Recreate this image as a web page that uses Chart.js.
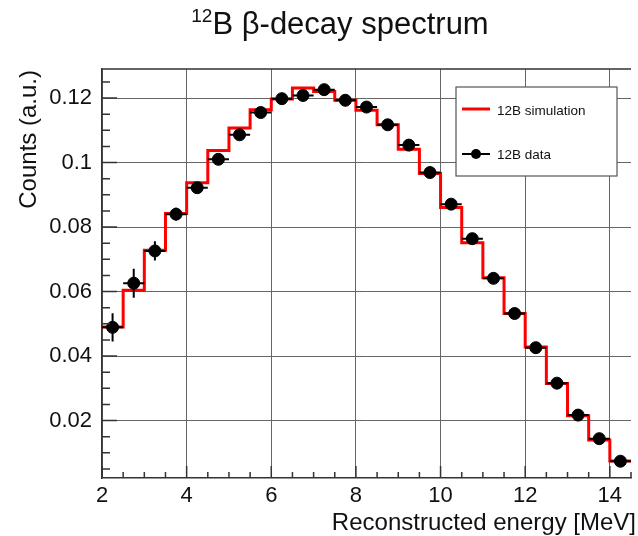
<!DOCTYPE html>
<html>
<head>
<meta charset="utf-8">
<script src="https://cdn.jsdelivr.net/npm/chart.js@4.4.1/dist/chart.umd.min.js"></script>
<style>
  html, body { margin: 0; padding: 0; background: #fff; }
  #wrap { position: relative; width: 638px; height: 536px; overflow: hidden; }
  #title {
    position: absolute; left: 0; top: 6px; width: 680px; text-align: center;
    font-family: "Liberation Sans", Arial, sans-serif; font-size: 31px; line-height: 36px; color: #111;
  }
  #title span { font-size: 19px; position: relative; top: -12px; }
</style>
</head>
<body>
<div id="wrap">
  <canvas id="myChart" width="638" height="536"></canvas>
  <div id="title"><span>12</span>B β-decay spectrum</div>
</div>
<script>
// histogram bins [MeV]
const binEdges = [2, 2.5, 3, 3.5, 4, 4.5, 5, 5.5, 6, 6.5, 7, 7.5, 8, 8.5, 9, 9.5, 10, 10.5, 11, 11.5, 12, 12.5, 13, 13.5, 14, 14.5];
const binCenters = [2.25, 2.75, 3.25, 3.75, 4.25, 4.75, 5.25, 5.75, 6.25, 6.75, 7.25, 7.75, 8.25, 8.75, 9.25, 9.75, 10.25, 10.75, 11.25, 11.75, 12.25, 12.75, 13.25, 13.75, 14.25];

// 12B simulation (one value per bin)
const simValues = [0.0490, 0.0604, 0.0728, 0.0842, 0.0937, 0.1037, 0.1107, 0.1164, 0.1197, 0.1231, 0.1220, 0.1193,
    0.1162, 0.1117, 0.1041, 0.0966, 0.0861, 0.0751, 0.0643, 0.0532, 0.0428, 0.0315, 0.0215, 0.0140, 0.0075];

// 12B data + errors
const dataValues = [0.0489, 0.0626, 0.0726, 0.0840, 0.0922, 0.1010, 0.1086, 0.1155, 0.1198, 0.1208, 0.1226, 0.1193,
    0.1172, 0.1117, 0.1054, 0.0969, 0.0871, 0.0764, 0.0641, 0.0532, 0.0426, 0.0316, 0.0217, 0.0144, 0.0074];
const dataErrors = [0.0044, 0.0045, 0.0030, 0.0020, 0.0012, 0.0010, 0.0009, 0.0008, 0.0008, 0.0008, 0.0008, 0.0008,
    0.0008, 0.0008, 0.0007, 0.0007, 0.0007, 0.0006, 0.0006, 0.0005, 0.0005, 0.0004, 0.0004, 0.0003, 0.0003];

const xTicks = [2, 4, 6, 8, 10, 12, 14];
const yTicks = [0.02, 0.04, 0.06, 0.08, 0.1, 0.12];
const yTickLabels = ['0.02', '0.04', '0.06', '0.08', '0.1', '0.12'];

const FONT = '"Liberation Sans", Arial, sans-serif';

// step line points: each bin low edge, plus the last high edge
const simPoints = binEdges.map((e, i) => ({ x: e, y: simValues[Math.min(i, simValues.length - 1)] }));
const dataPoints = binCenters.map((c, i) => ({ x: c, y: dataValues[i] }));

// inward ticks, frame top, error bars, legend, axis titles
const rootStyle = {
    id: 'rootStyle',
    afterDatasetsDraw(chart) {
        const { ctx, scales: { x, y } } = chart;
        ctx.save();
        // error bars
        ctx.strokeStyle = '#000';
        ctx.lineWidth = 2;
        ctx.beginPath();
        binCenters.forEach((c, i) => {
            const py = y.getPixelForValue(dataValues[i]);
            ctx.moveTo(x.getPixelForValue(binEdges[i]), py);
            ctx.lineTo(x.getPixelForValue(binEdges[i + 1]), py);
            const px = x.getPixelForValue(c);
            ctx.moveTo(px, y.getPixelForValue(dataValues[i] - dataErrors[i]));
            ctx.lineTo(px, y.getPixelForValue(dataValues[i] + dataErrors[i]));
        });
        ctx.stroke();
        ctx.restore();
    },
    afterDraw(chart) {
        const { ctx, chartArea: a, scales: { x, y } } = chart;
        ctx.save();
        ctx.strokeStyle = '#333';
        ctx.lineWidth = 1.5;
        ctx.beginPath();
        // top frame
        ctx.moveTo(a.left, a.top);
        ctx.lineTo(a.right, a.top);
        // x ticks
        for (let v = 2; v <= 14.5; v += 0.5) {
            const px = x.getPixelForValue(v);
            const len = (v % 2 === 0) ? 12 : 6;
            ctx.moveTo(px, a.bottom);
            ctx.lineTo(px, a.bottom - len);
        }
        // y ticks
        for (let k = 1; k <= 25; k++) {
            const py = y.getPixelForValue(k * 0.005);
            const len = (k % 4 === 0) ? 15 : 8;
            ctx.moveTo(a.left, py);
            ctx.lineTo(a.left + len, py);
        }
        ctx.stroke();

        // legend
        ctx.fillStyle = '#fff';
        ctx.fillRect(456, 87, 161, 89);
        ctx.strokeStyle = '#555';
        ctx.lineWidth = 1.2;
        ctx.strokeRect(456, 87, 161, 89);
        ctx.strokeStyle = '#ff0000';
        ctx.lineWidth = 3;
        ctx.beginPath();
        ctx.moveTo(462, 109);
        ctx.lineTo(490, 109);
        ctx.stroke();
        ctx.strokeStyle = '#000';
        ctx.lineWidth = 2;
        ctx.beginPath();
        ctx.moveTo(462, 154);
        ctx.lineTo(490, 154);
        ctx.stroke();
        ctx.fillStyle = '#000';
        ctx.beginPath();
        ctx.arc(476, 154, 5, 0, Math.PI * 2);
        ctx.fill();
        ctx.fillStyle = '#111';
        ctx.font = '13.5px ' + FONT;
        ctx.textAlign = 'left';
        ctx.textBaseline = 'alphabetic';
        ctx.fillText('12B simulation', 497, 114.5);
        ctx.fillText('12B data', 497, 158.5);

        // axis titles
        ctx.font = '24px ' + FONT;
        ctx.textAlign = 'right';
        ctx.fillText('Reconstructed energy [MeV]', 636, 530);
        ctx.translate(36, 70);
        ctx.rotate(-Math.PI / 2);
        ctx.fillText('Counts (a.u.)', 0, 0);
        ctx.restore();
    }
};

const ctx = document.getElementById('myChart').getContext('2d');
const myChart = new Chart(ctx, {
    type: 'scatter',
    data: {
        datasets: [{
            label: '12B data',
            data: dataPoints,
            backgroundColor: '#000',
            borderColor: '#000',
            pointRadius: 6,
            pointHoverRadius: 6,
            order: 1
        }, {
            type: 'line',
            label: '12B simulation',
            data: simPoints,
            stepped: 'before',
            borderColor: '#ff0000',
            borderWidth: 3,
            pointRadius: 0,
            fill: false,
            order: 2
        }]
    },
    options: {
        responsive: false,
        animation: false,
        layout: { padding: { top: 69, left: 0, right: 0, bottom: 0 } },
        plugins: {
            legend: { display: false },
            tooltip: { enabled: false },
            title: { display: false }
        },
        scales: {
            x: {
                type: 'linear',
                min: 2,
                max: 14.5,
                afterBuildTicks: (s) => { s.ticks = xTicks.map(v => ({ value: v })); },
                afterFit: (s) => { s.height = 58; },
                grid: { color: '#666', borderDash: [2, 3], drawTicks: false, lineWidth: 1 },
                border: { display: true, color: '#333', width: 1.5 },
                ticks: {
                    color: '#111',
                    padding: 5,
                    maxRotation: 0,
                    font: { family: FONT, size: 22 },
                    callback: (v) => String(v)
                }
            },
            y: {
                type: 'linear',
                min: 0.0022,
                max: 0.129,
                afterBuildTicks: (s) => { s.ticks = yTicks.map(v => ({ value: v })); },
                afterFit: (s) => { s.width = 102; },
                grid: { color: '#666', borderDash: [2, 3], drawTicks: false, lineWidth: 1 },
                border: { display: true, color: '#333', width: 1.5 },
                ticks: {
                    color: '#111',
                    padding: 10,
                    font: { family: FONT, size: 22 },
                    callback: (v, i) => yTickLabels[i]
                }
            }
        }
    },
    plugins: [rootStyle]
});
</script>
</body>
</html>
